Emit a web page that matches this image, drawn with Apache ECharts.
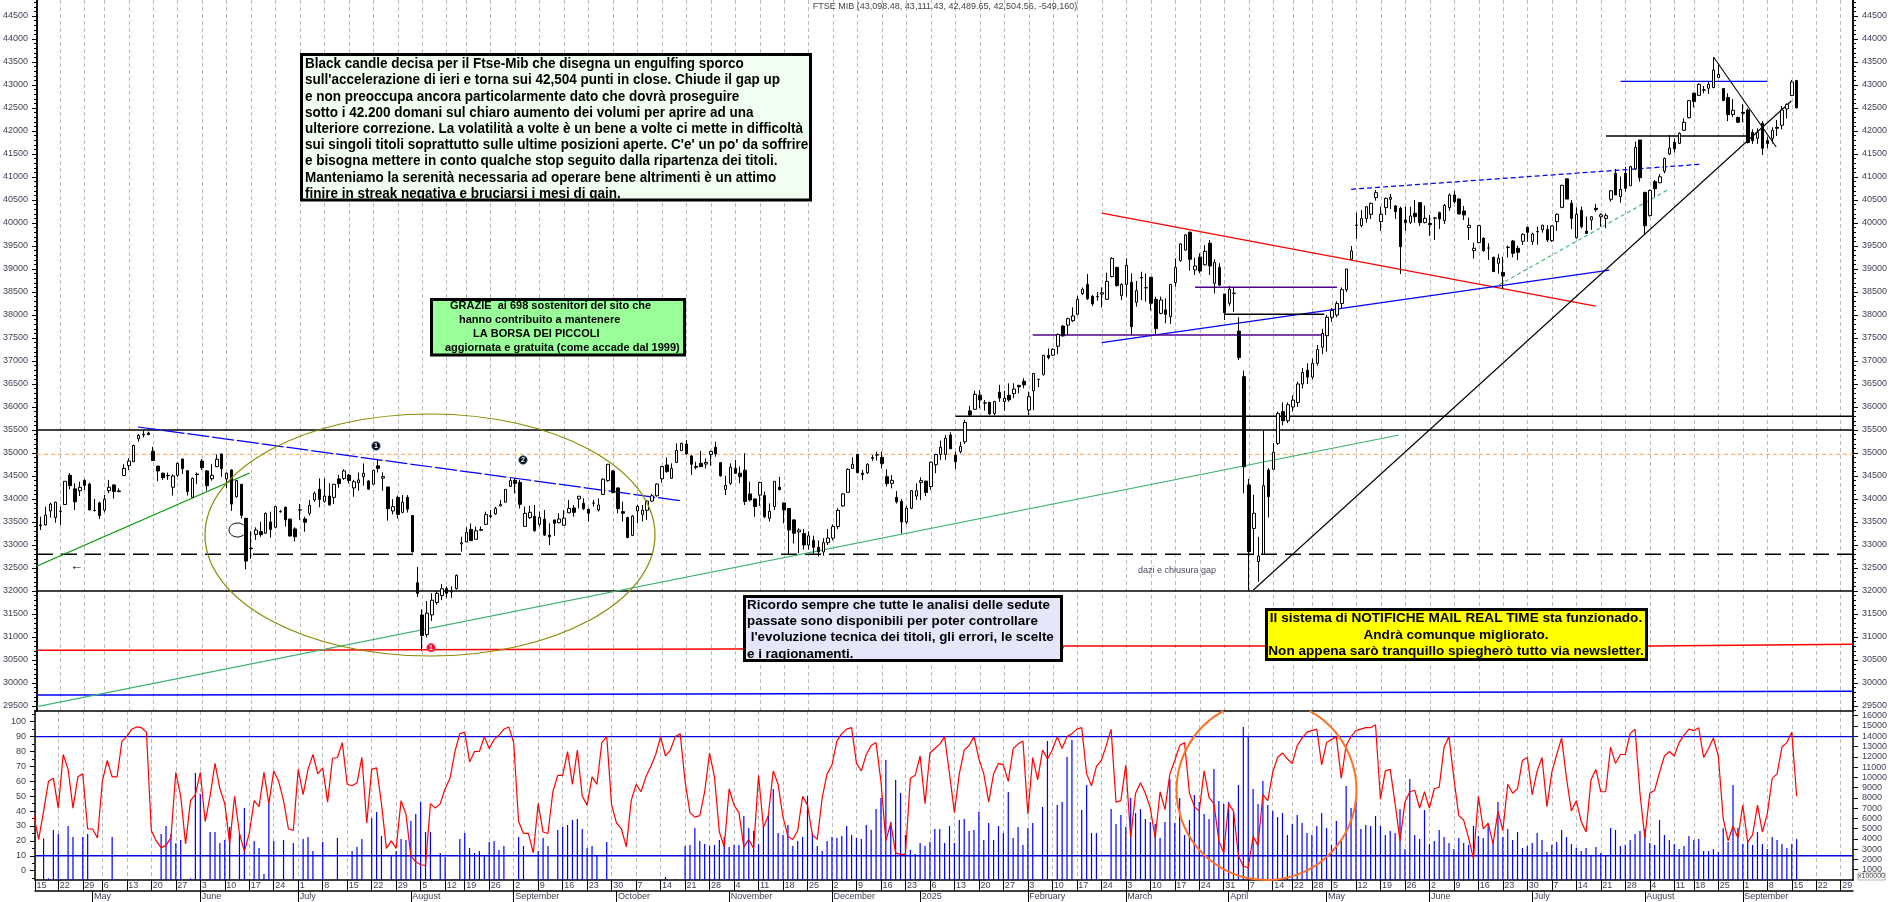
<!DOCTYPE html>
<html><head><meta charset="utf-8">
<style>html,body{margin:0;padding:0;background:#fff}#c{width:1890px;height:902px}</style>
<script src="https://cdn.jsdelivr.net/npm/echarts@6/dist/echarts.min.js"></script>
</head><body><div id="c"></div>
<script>
const titleText = 'FTSE MIB (43,098.48, 43,111.43, 42,489.65, 42,504.56, -549,160)';
const weekTicks = [0.25,5,10,14,19,24,29,34,39,44,49,54,59,64,69,74,79,84,88,93,98,103,108,113,118,123,128,133,138,143,148,153,158,163,168,173,178,183,188,193,198,203,208,213,218,223,228,233,238,243,248,253,257,261,265,270,275,280,285,290,295,300,305,310,315,320,325,330,335,339,344,349,354,359,364,369];
const weekLabels = ['15','22','29','6','13','20','27','3','10','17','24','1','8','15','22','29','5','12','19','26','2','9','16','23','30','7','14','21','28','4','11','18','25','2','9','16','23','6','13','20','27','3','10','17','24','3','10','17','24','31','7','14','22','28','5','12','19','26','2','9','16','23','30','7','14','21','28','4','11','18','25','1','8','15','22','29'];
const monthTicks = [12,34,54,77,98,119,142,163,181,203,223,244,264,285,306,329,349];
const monthLabels = ['May','June','July','August','September','October','November','December','2025','February','March','April','May','June','July','August','September'];
const priceTicks = [30000,30500,31000,31500,32000,32500,33000,33500,34000,34500,35000,35500,36000,36500,37000,37500,38000,38500,39000,39500,40000,40500,41000,41500,42000,42500,43000,43500,44000,44500,29500];
const rsiTicks = [0,10,20,30,40,50,60,70,80,90,100];
const volTicks = [1000,2000,3000,4000,5000,6000,7000,8000,9000,10000,11000,12000,13000,14000,15000,16000];

// open, close, low, high — one row per session, starting at session index 1
const ohlc = [
[33420,33435,33325,33615],[33435,33650,33430,33835],[33740,33890,33595,33920],[33595,33930,33485,33940],[33730,33735,33435,33835],[33880,34385,33880,34385],[34515,34290,34210,34560],[34220,33940,33760,34340],[34180,34255,34065,34375],
[34405,34295,34195,34430],[34325,33760,33760,34355],[33755,33750,33725,34000],[33915,33640,33565,33945],[33760,33995,33710,34090],[34180,34255,34125,34415],[34305,34165,34010,34325],[34175,34160,34160,34230],[34510,34665,34510,34755],[34725,34825,34630,34885],
[34810,35165,34810,35180],[35310,35385,35245,35415],[35395,35410,35340,35485],[35435,35400,35390,35465],[35035,34835,34835,35135],[34715,34610,34390,34715],[34560,34465,34415,34575],[34510,34505,34415,34575],[34255,34500,34075,34535],[34515,34775,34485,34790],
[34870,34660,34545,34870],[34615,34160,34075,34615],[34035,34450,34030,34465],[34540,34530,34325,34575],[34825,34680,34630,34870],[34610,34290,34180,34630],[34440,34515,34400,34755],[34705,34865,34690,34970],[34980,34660,34485,34980],[34435,34560,34230,34575],
[34630,33890,33740,34645],[34050,34400,34030,34415],[34320,33645,33575,34320],[33580,32650,32470,33580],[32930,32920,32700,33300],[33230,33325,33110,33385],[33290,33225,33180,33505],[33255,33690,33255,33705],[33500,33335,33160,33725],[33385,33835,33365,33850],
[33730,33720,33705,33760],[33820,33550,33400,33835],[33560,33195,33185,33580],[33350,33180,33075,33385],[33765,33760,33545,33890],[33565,33495,33290,33615],[33690,33860,33640,33980],[33980,34125,33940,34160],[34210,33990,33820,34450],[33950,34065,33920,34450],
[34065,33870,33855,34340],[34035,34320,33890,34320],[34435,34335,34245,34525],[34445,34610,34415,34645],[34520,34400,34340,34545],[34240,34375,34050,34415],[34355,34415,34180,34575],[34485,34560,34290,34775],[34390,34215,34195,34415],[34320,34625,34320,34630],
[34720,34665,34575,34865],[34455,34485,34180,34580],[34260,33790,33530,34270],[33740,33835,33665,33995],[34035,33665,33575,34075],[33710,33930,33690,34085],[34035,33780,33705,34085],[33640,32855,32835,33655],[32180,31950,31870,32520],[31480,31030,30700,31600],
[31050,31520,30990,31780],[31480,31800,31350,31950],[31750,31950,31700,32000],[31900,32050,31800,32150],[32050,31950,31850,32100],[31980,32000,31850,32100],[32050,32340,32030,32360],[33025,33050,32855,33180],[33065,33275,33060,33385],[33340,33095,33095,33470],
[33125,33310,33125,33400],[33335,33320,33305,33400],[33450,33660,33435,33725],[33635,33620,33580,33760],[33675,33795,33655,33830],[33850,33880,33835,33980],[33930,34210,33930,34210],[34275,34400,34270,34450],[34405,34340,34125,34450],[34360,33885,33795,34415],
[33405,33690,33400,33835],[33595,33710,33565,33850],[33625,33310,33290,33870],[33450,33600,33400,33725],[33560,33215,33195,33760],[33215,33180,33000,33470],[33545,33470,33200,33545],[33485,33565,33470,33690],[33430,33585,33420,33760],[33700,33795,33690,33980],
[33805,33710,33615,33870],[34000,34060,33795,34060],[33905,33790,33760,34015],[33775,33690,33510,33795],[33910,33915,33835,33980],[33760,33870,33725,34010],[34100,34430,34090,34450],[34400,34755,34375,34755],[34610,34140,34125,34630],[34240,33790,33690,34255],
[33725,33690,33510,33940],[33595,33165,33145,33615],[33210,33630,33195,33650],[33740,33840,33470,33870],[33665,33760,33510,33870],[33755,33955,33545,33980],[33955,34070,33940,34110],[34070,34325,34050,34340],[34440,34705,34355,34720],[34740,34595,34575,34900],
[34450,34665,34435,34775],[34795,35055,34790,35210],[35050,35210,35050,35225],[35195,34980,34960,35285],[34935,34755,34525,34955],[34710,34690,34645,34810],[34775,34705,34690,35045],[34760,34795,34665,34885],[34970,35035,34725,35050],[35125,34980,34920,35245],
[34790,34505,34485,34805],[34210,34295,34085,34505],[34340,34690,34305,34775],[34665,34560,34545,34850],[34560,34485,34340,34705],[34625,33945,33870,34995],[34110,33980,33945,34375],[34000,33835,33615,34015],[34085,34360,33850,34375],[34075,33615,33580,34160],
[33580,33735,33510,33905],[33835,34385,33760,34385],[34255,34205,34185,34485],[33915,33760,33470,33920],[33795,33325,32805,33795],[33545,33255,33035,33560],[33285,33325,32820,33365],[33250,33000,32900,33350],[33000,33200,32900,33300],[33100,32950,32800,33200],
[32950,32850,32750,33100],[32850,33050,32770,33150],[33050,33150,33000,33350],[33150,33400,33100,33450],[33400,33750,33350,33800],[33850,34109,33830,34130],[34145,34645,34145,34665],[34665,34755,34665,34905],[34970,34570,34570,34970],[34560,34530,34410,34630],
[34570,34755,34545,34775],[34885,34900,34830,34955],[34955,34960,34835,35030],[34905,34770,34665,35030],[34485,34335,34270,34645],[34340,34405,34230,34520],[34035,33940,33900,34175],[33950,33500,33250,34000],[33500,33800,33450,33850],[33800,34180,33780,34190],
[34065,34180,33980,34340],[34360,34400,33975,34470],[34390,34140,34065,34390],[34270,34800,34195,34810],[34745,34965,34560,34980],[34970,35125,34850,35270],[34970,35320,34850,35390],[35390,35090,35090,35450],[34950,34810,34650,35030],[35030,35145,34990,35245],
[35245,35665,35195,35720],[35915,35825,35805,36020],[35950,36275,35935,36355],[36255,36155,35970,36370],[36090,36085,35920,36150],[36100,35850,35825,36115],[35860,36120,35820,36135],[36320,36195,36115,36480],[36120,36190,35920,36350],[36255,36155,36115,36515],
[36290,36390,36190,36515],[36470,36440,36295,36480],[36560,36480,36405,36625],[35935,36225,35825,36335],[36350,36730,35935,36730],[36600,36605,36430,36605],[36710,37125,36680,37130],[37125,37075,37035,37275],[37125,37255,37110,37275],[37320,37575,37150,37600],
[37760,37545,37530,37780],[37780,37920,37565,37940],[37875,37980,37850,38165],[38015,38340,38000,38415],[38465,38560,38435,38600],[38665,38355,38325,38890],[38405,38240,38195,38435],[38405,38400,38310,38495],[38455,38485,38165,38600],[38340,38730,38325,38920],
[38835,39230,38820,39255],[39035,38640,38615,39050],[38425,38665,38325,38690],[38665,39080,38400,39230],[38710,37745,37565,38905],[38275,38530,38180,38740],[38815,38805,38325,38940],[38595,38590,38290,38905],[38820,38255,38095,38820],[38340,37705,37565,38400],
[38035,38325,38015,38400],[38110,38015,37820,38360],[37965,38665,37805,38665],[38705,39035,38615,39230],[39182,39545,39160,39560],[39413,39740,39400,39760],[39800,39210,38965,39815],[38980,39065,38870,39245],[39260,38955,38905,39340],[39090,39385,39080,39520],
[39560,39065,38870,39630],[38690,39140,38470,39210],[39035,38650,38630,39125],[38457,38050,37890,38457],[38255,38560,38195,38630],[38470,38475,38070,38600],[37650,37075,37020,37950],[36660,34700,34125,36790],[34305,32855,32010,34435],[33360,33690,32780,34090],
[32640,32760,32200,33180],[32800,34290,32800,35500],[34630,34050,33600,34670],[34645,35015,34630,35210],[35210,35860,35175,35900],[35900,35700,35600,36100],[35700,36050,35650,36100],[36000,36150,35900,36250],[36100,36500,36000,36550],[36500,36750,36400,36850],
[36800,36650,36500,36950],[36650,36950,36600,37050],[36950,37250,36900,37350],[37300,37600,37150,37700],[37550,37950,37200,38000],[37950,38100,37850,38150],[38000,38250,37950,38300],[38250,38550,38150,38600],[38550,39000,38500,39000],[39211,39392,39196,39500],
[39950,39955,39653,40225],[39943,40095,39906,40283],[40095,40355,40008,40370],[40189,40428,40088,40443],[40551,40660,40486,40718],[40030,40189,39827,40356],[40334,40537,40175,40551],[40515,40558,40305,40631],[40370,40247,40088,40392],[40319,39486,38892,40355],
[40066,40008,39827,40356],[40015,40153,39979,40356],[40211,40138,40008,40500],[40443,40008,39935,40443],[40008,40102,39993,40377],[39993,39964,39718,40174],[40105,40110,39631,40123],[40225,40087,39870,40247],[40051,40384,39979,40413],[40334,40609,40269,40645],
[40609,40464,40428,40696],[40522,40196,40196,40537],[40261,40174,40066,40370],[39899,39950,39631,40116],[39399,39450,39225,39573],[39573,39943,39559,39957],[39667,39399,39377,39689],[39455,39457,39196,39559],[39254,38943,38943,39269],[39124,39232,38900,39327],
[38928,38848,38570,39269],[39470,39472,39250,39510],[39609,39341,39254,39631],[39450,39363,39196,39508],[39602,39754,39522,39776],[39906,39797,39595,39920],[39600,39760,39522,39790],[39810,39815,39530,39920],[39855,39950,39790,39965],[39860,39630,39590,39950],
[39615,39935,39590,39945],[40030,40190,39830,40210],[40340,40820,40320,40830],[40960,40520,40520,40965],[40430,40100,39870,40500],[39680,40190,39665,40340],[40275,39920,39885,40355],[39825,39775,39760,40140],[40065,40135,39850,40150],[40320,40290,40245,40415],
[40135,40180,39920,40210],[40100,40160,39885,40210],[40515,40700,40465,40715],[41080,40610,40610,41175],[40575,40730,40440,41010],[41080,40755,40680,41225],[40810,41225,40805,41245],[41175,41645,41150,41770],[41805,40985,40900,41805],[40665,39940,39740,40680],
[40160,40705,40140,40730],[40900,40745,40570,40935],[40875,41005,40865,41065],[41125,41405,41080,41420],[41500,41625,41480,41915],[41755,41610,41530,41840],[41730,41950,41720,41970],[42015,42190,42000,42275],[42290,42660,42275,42675],[42820,42640,42515,42835],
[42775,43015,42760,43035],[42895,42890,42820,42980],[42930,43015,42805,43075],[42945,43325,42930,43600],[43165,43230,43160,43450],[42925,42665,42650,42925],[42730,42355,42215,42820],[42360,42450,42310,42695],[42295,42190,42180,42310],[42405,42385,42190,42590],
[42455,41750,41725,42490],[41970,41790,41720,42035],[41840,41970,41720,42060],[42165,41625,41480,42215],[41790,41730,41625,41875],[41840,42015,41730,42080],[42080,42060,41890,42240],[42125,42455,42035,42545],[42480,42580,42275,42600],[42770,43065,42760,43110],
[43098,42505,42490,43111]
];
const oscillator = [
37,21,40,60,62,42,78,68,42,63, 65,28,28,22,60,74,63,63,87,90,
95,96.5,96,93,27,20,15.5,17,22,66, 50,18,47,51,66,33,50,72,55,45,
18,50,25,13,25,47,43,66,45,67, 60,47,28,27,68,51,68,78,65,69,
46,75.5,76,86,58,57,59,76,32,68, 69,45,15,20,15,47,38,10,6,4,
3.5,45,42,45,55,62,80,92,93,73, 80,80,90,82,88,91,95,96.5,86,33,
25,25,12,45,26,25,53,64,64,80, 58,81,50,44,63,58,86,90,44,32,
28,16,47,58,53,63,70,78,90,77, 81,90,92,60,39,36,37,53,79,63,
26,16,55,44,39,16,21,15,64,29, 37,67,58,36,23,21,27,50,44,24,
21,49,65,71,87,92,95,96,72,67, 78,84,86,60,20,32,12,11,11,62,
64,77,45,79,82,85,90,65,39,65, 81,84,90,75,65,46,65,72,71,60,
82,85,87,38,76,61,81,75,81,90, 82,90,92,95,96,65,57,70,74,84,
95,46,47,71,22,52,59,52,42,22, 53,41,65,74,84,86,52,43,40,67,
49,45,20,12,45,40,10,3,2,23, 17,51,47,66,76,79,75,72,84,89,
93,94,95,71,86,88,90,62,84,90, 94,95,96,96,98,48,67,68,45,20,
46,53,54,42,53,42,55,56,83,90, 62,37,34,22,8,50,28,32,18,40,
27,58,52,55,74,76,51,67,76,43, 66,78,89,62,40,47,33,26,61,68,
53,53,83,72,78,78,92,95,52,22, 52,54,66,77,80,77,86,91,95,94,
96,76,82,89,77,35,20,30,22,44, 19,24,44,26,38,62,65,83,86,93,50
];
const volume = [
0,0,4060,160,4870,4480,0,5260,4190,0, 4190,4480,0,0,0,0,4190,100,0,0,
0,0,0,0,0,0,4480,5260,4480,3570, 3900,0,160,10420,8370,0,4670,4670,3600,3900,
5160,0,4510,7010,0,3800,3120,580,7470,3800, 0,3900,0,3600,0,3990,4190,2820,0,3700,
0,0,4090,0,0,2820,3210,3990,0,6040, 6620,4280,0,2340,2820,3990,3900,5750,6430,7630,
4670,4670,0,2630,2240,0,100,3990,4580,3120, 2630,2820,2430,3700,3800,2920,3310,0,0,4190,
3310,0,0,2820,4090,3310,0,4870,5160,5360, 5840,5940,4970,3120,3310,2340,0,3700,0,0,
0,0,0,0,0,0,0,0,0,290, 0,100,0,3310,3410,5060,3800,3500,3310,3410,
3900,4190,3210,3410,3410,6230,5060,4770,3500,5260, 6230,8860,4580,4380,5360,3310,3800,4190,8180,4580,
3310,2820,3800,4190,4090,4280,5260,4380,4090,3990, 5360,4870,6910,7990,11690,5650,9740,8470,4380,2920,
2530,3600,3310,3700,4970,4970,3600,5260,3600,5840, 5940,4770,4870,6620,3900,5550,3900,5260,4580,8570,
4090,5160,3410,5060,5550,0,7110,13540,0,7300, 7600,11980,13630,0,6820,9250,4580,4580,0,0,
6910,5450,6330,5160,7990,6520,6910,5940,5650,5450, 4090,5650,9840,5550,7990,4380,5840,8280,7600,6430,
5940,10810,7690,7400,7600,6620,9250,14900,13930,8860, 7400,9640,7300,6720,6130,6520,4380,5450,6330,5550,
4580,4380,5260,6520,5060,3410,5750,3800,9150,7010, 7790,4970,5360,5260,6230,5260,4380,4770,4580,6910,
3020,9840,4380,3990,6820,3500,3800,4870,4190,3600, 3020,4090,3600,3410,5260,4280,4090,5360,3900,7600,
4190,4970,3900,4670,3120,3310,3600,4580,3900,2730, 3410,3700,4870,4190,3500,3120,2820,3120,2430,3210,
2630,2430,5060,4870,3310,3410,3900,4480,4770,4970, 3600,3410,5840,4380,3900,3500,3020,3310,4280,3900,
3990,2820,2820,3020,2730,5030,3700,9250,5060,3500, 3900,3410,4670,3500,3020,4190,3900,3500,3120,3500,3990
];

const xMin = 0.245, xMax = 371.5;
// trend lines, in session index / price
const trendLines = [
  {c:'#000',w:1.5,p:[[xMin,35500],[xMax,35500]]},
  {c:'#ffa347',w:1.1,d:[4,3],p:[[xMin,34973],[xMax,34973]]},
  {c:'#000',w:1.5,d:[16,8],p:[[xMin,32797],[xMax,32797]]},
  {c:'#000',w:1.5,p:[[xMin,32000],[xMax,32000]]},
  {c:'#000',w:1.5,p:[[188,35800],[xMax,35800]]},
  {c:'#f00',w:1.4,p:[[xMin,30711],[43,30711],[43,30728],[95,30728],[95,30754],[210,30754],[210,30804],[330,30804],[330,30841],[xMax,30841]]},
  {c:'#00f',w:1.4,p:[[xMin,29739],[21,29739],[21,29754],[110,29754],[110,29776],[199,29776],[199,29798],[288,29798],[288,29819],[xMax,29819]]},
  {c:'#3cb371',w:1.25,p:[[xMin,29484],[278.7,35391]]},
  {c:'#009900',w:1.25,p:[[xMin,32543],[43.7,34565]]},
  {c:'#00f',w:1.25,d:[22,3],p:[[20.85,35565],[132.2,33956]]},
  {c:'#f00',w:1.25,p:[[217.9,40217],[318.9,38195]]},
  {c:'#00f',w:1.25,p:[[217.9,37397],[321.7,38978]]},
  {c:'#500090',w:1.4,p:[[203.8,37565],[263.4,37565]]},
  {c:'#500090',w:1.4,p:[[237,38602],[266,38602]]},
  {c:'#000',w:1.4,p:[[243,38015],[263.4,38015]]},
  {c:'#00f',w:1.25,d:[5,3],p:[[268.9,40733],[340.3,41276]]},
  {c:'#3cb371',w:1.1,d:[4,3],p:[[299.1,38652],[333.6,40717]]},
  {c:'#000',w:1.1,p:[[248.9,32021],[358.9,42652]]},
  {c:'#000',w:1.1,p:[[343,43609],[355.8,41652]]},
  {c:'#00f',w:1.4,p:[[324,43080],[354,43080]]},
  {c:'#000',w:1.4,p:[[321,41891],[349.7,41891]]}
];
const oscLevels = [90,10];

const note1 = "Black candle decisa per il Ftse-Mib che disegna un engulfing sporco\nsull'accelerazione di ieri e torna sui 42,504 punti in close. Chiude il gap up\ne non preoccupa ancora particolarmente dato che dovrà proseguire\nsotto i 42.200 domani sul chiaro aumento dei volumi per aprire ad una\nulteriore correzione. La volatilità a volte è un bene a volte ci mette in difficoltà\nsui singoli titoli soprattutto sulle ultime posizioni aperte. C'e' un po' da soffrire\ne bisogna mettere in conto qualche stop seguito dalla ripartenza dei titoli.\nManteniamo la serenità necessaria ad operare bene altrimenti è un attimo\nfinire in streak negativa e bruciarsi i mesi di gain.";
const note3 = "Ricordo sempre che tutte le analisi delle sedute\npassate sono disponibili per poter controllare\n l'evoluzione tecnica dei titoli, gli errori, le scelte\ne i ragionamenti.";

const FONT = '"Liberation Sans",Arial,sans-serif';
const LBL = {fontFamily:FONT,fontSize:9,color:'#3f3f55'};
const hundredTicks=[]; for(let v=29400;v<=44800;v+=100) hundredTicks.push(v);
const fiveTicks=[]; for(let v=-5;v<=105;v+=5) fiveTicks.push(v);

function priceY(pos,labels,custom,len){
  return {type:'value',gridIndex:0,position:pos,min:29391,max:44848,scale:true,
    axisLine:{show:true,lineStyle:{color:'#000',width:1.5}},
    axisTick:{show:true,length:len,customValues:custom,lineStyle:{color:'#000',width:1}},
    axisLabel:labels?Object.assign({show:true,customValues:custom,margin:9,formatter:v=>String(v)},LBL):{show:false},
    splitLine:{show:false}};
}
const weekMap={},monthMap={};
weekTicks.forEach((t,i)=>weekMap[t]=weekLabels[i]);
monthTicks.forEach((t,i)=>monthMap[t]=monthLabels[i]);
const gridSplit={show:true,lineStyle:{color:'#bbb',type:[4,3],width:1}};

const series=[];
series.push({type:'bar',xAxisIndex:1,yAxisIndex:6,data:volume.map((v,i)=>[i,v]),barWidth:1.2,
  itemStyle:{color:'#0000ff'},silent:true,animation:false,z:2});
oscLevels.forEach(l=>series.push({type:'line',xAxisIndex:1,yAxisIndex:4,data:[[xMin,l],[xMax,l]],symbol:'none',
  lineStyle:{color:'#0000e6',width:1.4},silent:true,animation:false,z:3}));
series.push({type:'line',xAxisIndex:1,yAxisIndex:4,data:oscillator.map((v,i)=>[i,v]),symbol:'none',
  lineStyle:{color:'#ff0000',width:1.2},silent:true,animation:false,z:4});
trendLines.forEach(t=>series.push({type:'line',xAxisIndex:0,yAxisIndex:0,data:t.p,symbol:'none',
  lineStyle:{color:t.c,width:t.w,type:t.d||'solid'},silent:true,animation:false,z:3}));
series.push({type:'candlestick',xAxisIndex:0,yAxisIndex:0,
  data:ohlc.map((r,i)=>[i+1,r[0],r[1],r[2],r[3]]),encode:{x:0,y:[1,2,3,4]},barWidth:3,
  itemStyle:{color:'#fff',color0:'#000',borderColor:'#000',borderColor0:'#000',borderWidth:1},
  silent:true,animation:false,z:4});

function box(x,y,w,h,fill){return {type:'rect',shape:{x:x,y:y,width:w,height:h},style:{fill:fill,stroke:'#000',lineWidth:3},z:50,silent:true};}
function txt(x,y,t,font,extra,sx){const e={type:'text',x:x,y:y,style:Object.assign({text:t,font:font,fill:'#000'},extra||{}),z:51,silent:true}; if(sx){e.scaleX=sx;} return e;}
function badge(cx,cy,col,n){return [
  {type:'circle',shape:{cx:cx,cy:cy,r:4.2},style:{fill:col,stroke:col==='#000'?'#3a6ea5':'#ff6060',lineWidth:0.8},z:20,silent:true},
  {type:'text',x:cx,y:cy,style:{text:n,font:'bold 7px '+FONT,fill:'#fff',align:'center',verticalAlign:'middle'},z:21,silent:true}];}

const graphics=[
  txt(945,7,titleText,'9px '+FONT,{fill:'#444',align:'center',verticalAlign:'middle'}),
  {type:'ellipse',shape:{cx:430,cy:535,rx:225,ry:121},style:{fill:'none',stroke:'#8b8b00',lineWidth:1.2},z:10,silent:true},
  {type:'ellipse',shape:{cx:237.5,cy:530,rx:8.5,ry:7},style:{fill:'none',stroke:'#000',lineWidth:1},z:10,silent:true},
  {type:'arc',shape:{cx:1266.5,cy:790,r:90,startAngle:-61.4*Math.PI/180,endAngle:241.4*Math.PI/180,clockwise:true},style:{fill:'none',stroke:'#ff7020',lineWidth:2},z:10,silent:true},
  ...badge(376,446,'#000','1'),...badge(523,460,'#000','2'),...badge(431,647.7,'#ff0033','1'),
  txt(70,566,'←','bold 13px '+FONT,{verticalAlign:'middle'}),
  txt(1138,571,'dazi e chiusura gap','9px '+FONT,{fill:'#4a4a60',verticalAlign:'middle'}),
  box(301.5,54.5,509,145.5,'#f0fff0'),
  txt(305,56,note1,'bold 15px '+FONT,{lineHeight:16.2},0.9),
  box(431.5,299.5,253,55.5,'#99ff99'),
  txt(450,300,'GRAZIE  ai 698 sostenitori del sito che','bold 11px '+FONT),
  txt(459,314,'hanno contribuito a mantenere','bold 11px '+FONT),
  txt(473,328.5,'LA BORSA DEI PICCOLI','bold 11px '+FONT),
  txt(445,342.5,'aggiornata e gratuita (come accade dal 1999)','bold 11px '+FONT),
  box(744.5,596.5,317,64,'#e6e6fa'),
  txt(747,597,note3,'bold 13.4px '+FONT,{lineHeight:16.3}),
  box(1266.5,609.5,380,50,'#ffff00'),
  txt(1456,611,'Il sistema di NOTIFICHE MAIL REAL TIME sta funzionado.','bold 13.6px '+FONT,{align:'center'}),
  txt(1456,628,'Andrà comunque migliorato.','bold 13.6px '+FONT,{align:'center'}),
  txt(1456,644,'Non appena sarò tranquillo spiegherò tutto via newsletter.','bold 13.6px '+FONT,{align:'center'}),
  {type:'rect',shape:{x:1858,y:873,width:27,height:7},style:{fill:'#fff',stroke:'#888',lineWidth:0.6},z:30,silent:true},
  txt(1871.5,876.5,'x100000','7px '+FONT,{fill:'#444',align:'center',verticalAlign:'middle'})
];

const chart=echarts.init(document.getElementById('c'),null,{renderer:'canvas',width:1890,height:902,devicePixelRatio:1});
chart.setOption({
  animation:false,backgroundColor:'#fff',tooltip:{show:false},
  grid:[{left:35,right:35,top:0,height:711,containLabel:false},{left:35,right:35,top:711,height:169,containLabel:false}],
  xAxis:[
    {type:'value',gridIndex:0,min:xMin,max:xMax,position:'bottom',
      axisLine:{show:false},axisLabel:{show:false},axisTick:{show:false,customValues:weekTicks},splitLine:gridSplit},
    {type:'value',gridIndex:1,min:xMin,max:xMax,position:'bottom',
      axisLine:{show:true,onZero:false,lineStyle:{color:'#000',width:1.5}},
      axisTick:{show:true,length:11,customValues:weekTicks,lineStyle:{color:'#000',width:1}},
      axisLabel:Object.assign({show:true,customValues:weekTicks,align:'left',margin:1.5,padding:[0,0,0,1.5],hideOverlap:false,formatter:v=>weekMap[v]||''},LBL),
      splitLine:gridSplit},
    {type:'value',gridIndex:1,min:xMin,max:xMax,position:'bottom',offset:11,
      axisLine:{show:true,onZero:false,lineStyle:{color:'#000',width:1.5}},
      axisTick:{show:true,length:11,customValues:monthTicks,lineStyle:{color:'#000',width:1}},
      axisLabel:Object.assign({show:true,customValues:monthTicks,align:'left',margin:1.5,padding:[0,0,0,1.5],hideOverlap:false,formatter:v=>monthMap[v]||''},LBL),
      splitLine:{show:false}},
    {type:'value',gridIndex:1,min:xMin,max:xMax,position:'top',
      axisLine:{show:true,onZero:false,lineStyle:{color:'#000',width:1.5}},axisLabel:{show:false},axisTick:{show:false},splitLine:{show:false}}
  ],
  yAxis:[
    priceY('left',true,priceTicks,5),
    priceY('left',false,hundredTicks,3),
    priceY('right',true,priceTicks,5),
    priceY('right',false,hundredTicks,3),
    {type:'value',gridIndex:1,position:'left',min:-6.24,max:107.2,
      axisLine:{show:true,lineStyle:{color:'#000',width:1.5}},
      axisTick:{show:true,length:5,customValues:rsiTicks,lineStyle:{color:'#000'}},
      axisLabel:Object.assign({show:true,customValues:rsiTicks,margin:9,formatter:v=>String(v)},LBL),splitLine:{show:false}},
    {type:'value',gridIndex:1,position:'left',min:-6.24,max:107.2,
      axisLine:{show:false},axisTick:{show:true,length:3,customValues:fiveTicks,lineStyle:{color:'#000'}},
      axisLabel:{show:false},splitLine:{show:false}},
    {type:'value',gridIndex:1,position:'right',min:0,max:16456,
      axisLine:{show:true,lineStyle:{color:'#000',width:1.5}},
      axisTick:{show:true,length:5,customValues:volTicks,lineStyle:{color:'#000'}},
      axisLabel:Object.assign({show:true,customValues:volTicks,margin:9,formatter:v=>String(v)},LBL),splitLine:{show:false}}
  ],
  series:series,
  graphic:{elements:graphics}
});
</script></body></html>
